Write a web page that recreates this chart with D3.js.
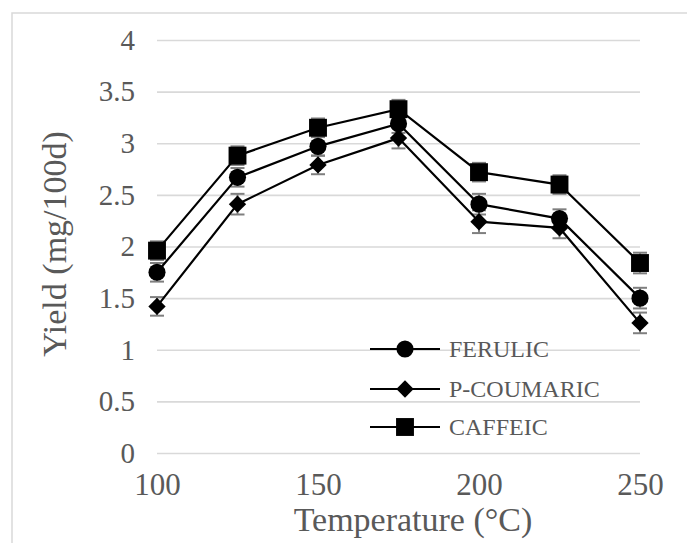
<!DOCTYPE html>
<html>
<head>
<meta charset="utf-8">
<script src="https://cdn.jsdelivr.net/npm/d3@7"></script>
</head>
<body style="margin:0">
<script>
const temperatures = [100, 125, 150, 175, 200, 225, 250];
const xTickLabels = [100, 150, 200, 250];
const yTicks = [0, 0.5, 1, 1.5, 2, 2.5, 3, 3.5, 4];

const ferulic    = [1.75, 2.67, 2.97, 3.19, 2.41, 2.27, 1.50];
const pCoumaric  = [1.42, 2.41, 2.79, 3.05, 2.24, 2.18, 1.26];
const caffeic    = [1.96, 2.88, 3.15, 3.33, 2.72, 2.60, 1.84];

const ferulicErr   = [0.09, 0.09, 0.09, 0.09, 0.10, 0.09, 0.10];
const pCoumaricErr = [0.09, 0.10, 0.09, 0.10, 0.11, 0.10, 0.10];
const caffeicErr   = [0.09, 0.09, 0.09, 0.09, 0.09, 0.09, 0.10];

const seriesNames = ["FERULIC", "P-COUMARIC", "CAFFEIC"];

const FONT = '"Liberation Serif"';
const TXT = "#595959";

function serif(sel, size) {
  return sel.style("font-family", FONT).style("font-size", size + "px").attr("fill", TXT);
}

const W = 687, H = 543;
const svg = d3.select("body").append("svg").attr("width", W).attr("height", H).style("display", "block");

// outer frame
svg.append("rect").attr("x", 12).attr("y", 13).attr("width", 700).attr("height", 560)
  .attr("fill", "none").attr("stroke", "#d9d9d9").attr("stroke-width", 1.5);

const x = d3.scalePoint().domain(temperatures).range([157, 640]).padding(0);
const y = d3.scaleLinear().domain([0, 4]).range([453, 40]);

// gridlines + y labels
const yAxis = svg.append("g").attr("transform", "translate(157,0)")
  .call(d3.axisLeft(y).tickValues(yTicks).tickSize(-(640 - 157)).tickPadding(22)
    .tickFormat(d => String(d)));
yAxis.attr("font-family", null).attr("font-size", null);
yAxis.select(".domain").remove();
yAxis.selectAll(".tick line").attr("stroke", "#d9d9d9").attr("stroke-width", 1.6);
serif(yAxis.selectAll(".tick text"), 29);

// x labels
const xAxis = svg.append("g").attr("transform", "translate(0,453)")
  .call(d3.axisBottom(x).tickValues(xTickLabels).tickSize(0).tickPadding(20));
xAxis.attr("font-family", null).attr("font-size", null);
xAxis.select(".domain").remove();
serif(xAxis.selectAll(".tick text"), 31);

// axis titles
serif(svg.append("text").attr("x", 413).attr("y", 531).attr("text-anchor", "middle"), 34)
  .text("Temperature (°C)");
serif(svg.append("text").attr("transform", "translate(66,244) rotate(-90)").attr("text-anchor", "middle"), 34)
  .text("Yield (mg/100d)");

const symCircle = d3.symbol().type(d3.symbolCircle).size(230)();
const symSquare = d3.symbol().type(d3.symbolSquare).size(320)();
const symDiamond = d3.symbol().type(d3.symbolSquare).size(150)();

const allSeries = [
  { name: seriesNames[0], values: ferulic, err: ferulicErr, d: symCircle, rot: 0 },
  { name: seriesNames[1], values: pCoumaric, err: pCoumaricErr, d: symDiamond, rot: 45 },
  { name: seriesNames[2], values: caffeic, err: caffeicErr, d: symSquare, rot: 0 }
];

// error bars
allSeries.forEach(s => {
  const g = svg.append("g");
  temperatures.forEach((t, i) => {
    const cx = x(t), v = s.values[i], e = s.err[i];
    g.append("line").attr("x1", cx).attr("x2", cx).attr("y1", y(v - e)).attr("y2", y(v + e))
      .attr("stroke", "#7f7f7f").attr("stroke-width", 2);
    [v - e, v + e].forEach(ev => {
      g.append("line").attr("x1", cx - 7).attr("x2", cx + 7).attr("y1", y(ev)).attr("y2", y(ev))
        .attr("stroke", "#7f7f7f").attr("stroke-width", 2);
    });
  });
});

const line = d3.line().x((d, i) => x(temperatures[i])).y(d => y(d));
allSeries.forEach(s => {
  svg.append("path").datum(s.values).attr("d", line)
    .attr("fill", "none").attr("stroke", "#000").attr("stroke-width", 2.2);
});
allSeries.forEach(s => {
  svg.append("g").selectAll("path").data(s.values).join("path")
    .attr("transform", (d, i) => `translate(${x(temperatures[i])},${y(d)}) rotate(${s.rot})`)
    .attr("d", s.d).attr("fill", "#000");
});

// legend
const legendRows = [349, 389, 427];
allSeries.forEach((s, i) => {
  const g = svg.append("g").attr("transform", `translate(0,${legendRows[i]})`);
  g.append("line").attr("x1", 370).attr("x2", 440).attr("y1", 0).attr("y2", 0)
    .attr("stroke", "#000").attr("stroke-width", 2.2);
  g.append("path").attr("transform", `translate(405,0) rotate(${s.rot})`)
    .attr("d", s.d).attr("fill", "#000");
  serif(g.append("text").attr("x", 449).attr("y", 0).attr("dy", "0.35em"), 24).text(s.name);
});
</script>
</body>
</html>
